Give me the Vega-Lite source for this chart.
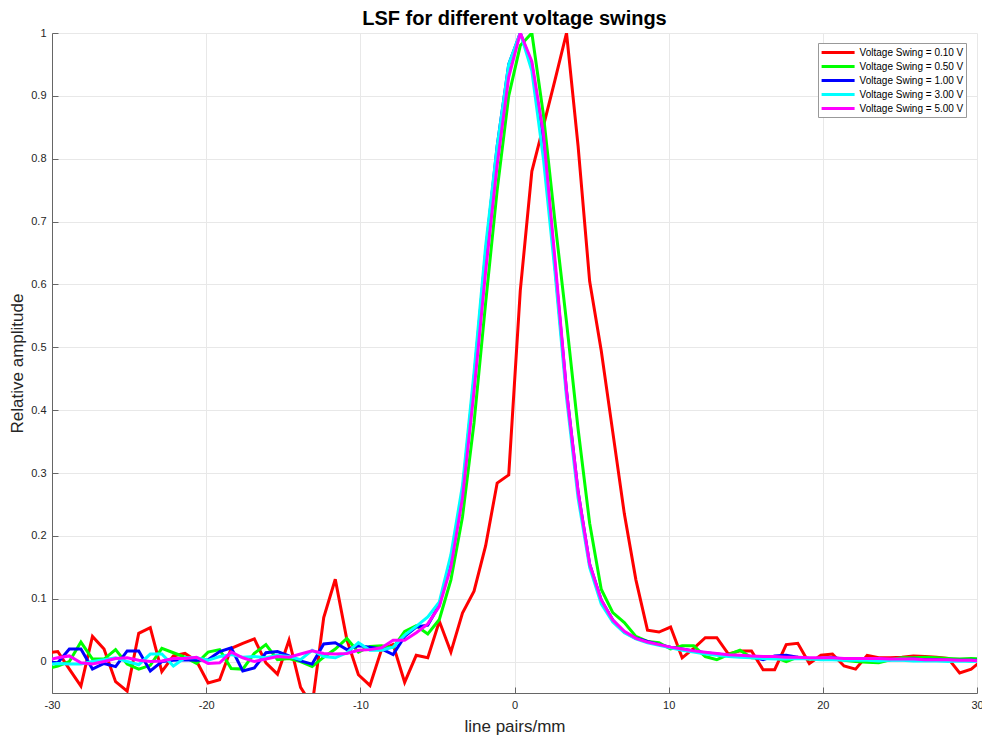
{
  "$schema": "https://vega.github.io/schema/vega-lite/v6.json",
  "autosize": "none",
  "width": 925,
  "height": 660,
  "padding": {"left": 52, "top": 33, "right": 5, "bottom": 47},
  "background": "white",
  "title": {"text": "LSF for different voltage swings", "fontSize": 20, "fontWeight": "bold", "font": "Liberation Sans", "color": "#000000", "anchor": "middle", "offset": -2},
  "config": {"view": {"stroke": null}, "font": "Liberation Sans"},
  "data": {"values": [
    {"v":0.1,"x":-30.375,"y":0.014},{"v":0.1,"x":-29.625,"y":0.016},{"v":0.1,"x":-28.875,"y":-0.012},{"v":0.1,"x":-28.125,"y":-0.039},{"v":0.1,"x":-27.375,"y":0.040},{"v":0.1,"x":-26.625,"y":0.020},{"v":0.1,"x":-25.875,"y":-0.032},{"v":0.1,"x":-25.125,"y":-0.047},{"v":0.1,"x":-24.375,"y":0.045},{"v":0.1,"x":-23.625,"y":0.054},
    {"v":0.1,"x":-22.875,"y":-0.016},{"v":0.1,"x":-22.125,"y":0.009},{"v":0.1,"x":-21.375,"y":0.013},{"v":0.1,"x":-20.625,"y":0.001},{"v":0.1,"x":-19.875,"y":-0.034},{"v":0.1,"x":-19.125,"y":-0.029},{"v":0.1,"x":-18.375,"y":0.021},{"v":0.1,"x":-17.625,"y":0.029},{"v":0.1,"x":-16.875,"y":0.036},{"v":0.1,"x":-16.125,"y":-0.002},
    {"v":0.1,"x":-15.375,"y":-0.020},{"v":0.1,"x":-14.625,"y":0.034},{"v":0.1,"x":-13.875,"y":-0.041},{"v":0.1,"x":-13.125,"y":-0.070},{"v":0.1,"x":-12.375,"y":0.070},{"v":0.1,"x":-11.625,"y":0.131},{"v":0.1,"x":-10.875,"y":0.035},{"v":0.1,"x":-10.125,"y":-0.021},{"v":0.1,"x":-9.375,"y":-0.038},{"v":0.1,"x":-8.625,"y":0.019},
    {"v":0.1,"x":-7.875,"y":0.027},{"v":0.1,"x":-7.125,"y":-0.033},{"v":0.1,"x":-6.375,"y":0.010},{"v":0.1,"x":-5.625,"y":0.006},{"v":0.1,"x":-4.875,"y":0.064},{"v":0.1,"x":-4.125,"y":0.015},{"v":0.1,"x":-3.375,"y":0.077},{"v":0.1,"x":-2.625,"y":0.112},{"v":0.1,"x":-1.875,"y":0.184},{"v":0.1,"x":-1.125,"y":0.284},
    {"v":0.1,"x":-0.375,"y":0.297},{"v":0.1,"x":0.375,"y":0.590},{"v":0.1,"x":1.125,"y":0.780},{"v":0.1,"x":1.875,"y":0.852},{"v":0.1,"x":2.625,"y":0.925},{"v":0.1,"x":3.375,"y":1.000},{"v":0.1,"x":4.125,"y":0.820},{"v":0.1,"x":4.875,"y":0.605},{"v":0.1,"x":5.625,"y":0.495},{"v":0.1,"x":6.375,"y":0.365},
    {"v":0.1,"x":7.125,"y":0.235},{"v":0.1,"x":7.875,"y":0.130},{"v":0.1,"x":8.625,"y":0.050},{"v":0.1,"x":9.375,"y":0.047},{"v":0.1,"x":10.125,"y":0.055},{"v":0.1,"x":10.875,"y":0.006},{"v":0.1,"x":11.625,"y":0.021},{"v":0.1,"x":12.375,"y":0.038},{"v":0.1,"x":13.125,"y":0.038},{"v":0.1,"x":13.875,"y":0.012},
    {"v":0.1,"x":14.625,"y":0.017},{"v":0.1,"x":15.375,"y":0.017},{"v":0.1,"x":16.125,"y":-0.013},{"v":0.1,"x":16.875,"y":-0.013},{"v":0.1,"x":17.625,"y":0.027},{"v":0.1,"x":18.375,"y":0.029},{"v":0.1,"x":19.125,"y":-0.003},{"v":0.1,"x":19.875,"y":0.010},{"v":0.1,"x":20.625,"y":0.012},{"v":0.1,"x":21.375,"y":-0.007},
    {"v":0.1,"x":22.125,"y":-0.012},{"v":0.1,"x":22.875,"y":0.010},{"v":0.1,"x":23.625,"y":0.006},{"v":0.1,"x":24.375,"y":0.006},{"v":0.1,"x":25.125,"y":0.007},{"v":0.1,"x":25.875,"y":0.009},{"v":0.1,"x":26.625,"y":0.008},{"v":0.1,"x":27.375,"y":0.007},{"v":0.1,"x":28.125,"y":0.005},{"v":0.1,"x":28.875,"y":-0.018},
    {"v":0.1,"x":29.625,"y":-0.012},{"v":0.1,"x":30.375,"y":0.003},

    {"v":0.5,"x":-30.375,"y":-0.012},{"v":0.5,"x":-29.625,"y":-0.007},{"v":0.5,"x":-28.875,"y":0.000},{"v":0.5,"x":-28.125,"y":0.031},{"v":0.5,"x":-27.375,"y":0.004},{"v":0.5,"x":-26.625,"y":0.004},{"v":0.5,"x":-25.875,"y":0.019},{"v":0.5,"x":-25.125,"y":-0.004},{"v":0.5,"x":-24.375,"y":-0.012},{"v":0.5,"x":-23.625,"y":-0.006},
    {"v":0.5,"x":-22.875,"y":0.021},{"v":0.5,"x":-22.125,"y":0.014},{"v":0.5,"x":-21.375,"y":0.007},{"v":0.5,"x":-20.625,"y":-0.003},{"v":0.5,"x":-19.875,"y":0.015},{"v":0.5,"x":-19.125,"y":0.019},{"v":0.5,"x":-18.375,"y":-0.011},{"v":0.5,"x":-17.625,"y":-0.012},{"v":0.5,"x":-16.875,"y":0.013},{"v":0.5,"x":-16.125,"y":0.027},
    {"v":0.5,"x":-15.375,"y":0.003},{"v":0.5,"x":-14.625,"y":0.005},{"v":0.5,"x":-13.875,"y":0.000},{"v":0.5,"x":-13.125,"y":-0.008},{"v":0.5,"x":-12.375,"y":0.007},{"v":0.5,"x":-11.625,"y":0.020},{"v":0.5,"x":-10.875,"y":0.037},{"v":0.5,"x":-10.125,"y":0.015},{"v":0.5,"x":-9.375,"y":0.024},{"v":0.5,"x":-8.625,"y":0.025},
    {"v":0.5,"x":-7.875,"y":0.022},{"v":0.5,"x":-7.125,"y":0.048},{"v":0.5,"x":-6.375,"y":0.057},{"v":0.5,"x":-5.625,"y":0.044},{"v":0.5,"x":-4.875,"y":0.067},{"v":0.5,"x":-4.125,"y":0.130},{"v":0.5,"x":-3.375,"y":0.230},{"v":0.5,"x":-2.625,"y":0.380},{"v":0.5,"x":-1.875,"y":0.570},{"v":0.5,"x":-1.125,"y":0.750},
    {"v":0.5,"x":-0.375,"y":0.900},{"v":0.5,"x":0.375,"y":0.980},{"v":0.5,"x":1.125,"y":1.000},{"v":0.5,"x":1.875,"y":0.870},{"v":0.5,"x":2.625,"y":0.700},{"v":0.5,"x":3.375,"y":0.540},{"v":0.5,"x":4.125,"y":0.370},{"v":0.5,"x":4.875,"y":0.220},{"v":0.5,"x":5.625,"y":0.115},{"v":0.5,"x":6.375,"y":0.078},
    {"v":0.5,"x":7.125,"y":0.062},{"v":0.5,"x":7.875,"y":0.040},{"v":0.5,"x":8.625,"y":0.032},{"v":0.5,"x":9.375,"y":0.030},{"v":0.5,"x":10.125,"y":0.020},{"v":0.5,"x":10.875,"y":0.025},{"v":0.5,"x":11.625,"y":0.025},{"v":0.5,"x":12.375,"y":0.008},{"v":0.5,"x":13.125,"y":0.003},{"v":0.5,"x":13.875,"y":0.011},
    {"v":0.5,"x":14.625,"y":0.018},{"v":0.5,"x":15.375,"y":0.006},{"v":0.5,"x":16.125,"y":0.005},{"v":0.5,"x":16.875,"y":0.007},{"v":0.5,"x":17.625,"y":0.000},{"v":0.5,"x":18.375,"y":0.007},{"v":0.5,"x":19.125,"y":0.004},{"v":0.5,"x":19.875,"y":0.005},{"v":0.5,"x":20.625,"y":0.006},{"v":0.5,"x":21.375,"y":0.002},
    {"v":0.5,"x":22.125,"y":0.000},{"v":0.5,"x":22.875,"y":-0.001},{"v":0.5,"x":23.625,"y":-0.002},{"v":0.5,"x":24.375,"y":0.003},{"v":0.5,"x":25.125,"y":0.006},{"v":0.5,"x":25.875,"y":0.006},{"v":0.5,"x":26.625,"y":0.007},{"v":0.5,"x":27.375,"y":0.006},{"v":0.5,"x":28.125,"y":0.005},{"v":0.5,"x":28.875,"y":0.004},
    {"v":0.5,"x":29.625,"y":0.005},{"v":0.5,"x":30.375,"y":0.004},

    {"v":1,"x":-30.375,"y":0.000},{"v":1,"x":-29.625,"y":-0.002},{"v":1,"x":-28.875,"y":0.020},{"v":1,"x":-28.125,"y":0.020},{"v":1,"x":-27.375,"y":-0.012},{"v":1,"x":-26.625,"y":-0.003},{"v":1,"x":-25.875,"y":-0.008},{"v":1,"x":-25.125,"y":0.017},{"v":1,"x":-24.375,"y":0.017},{"v":1,"x":-23.625,"y":-0.015},
    {"v":1,"x":-22.875,"y":0.000},{"v":1,"x":-22.125,"y":0.002},{"v":1,"x":-21.375,"y":0.003},{"v":1,"x":-20.625,"y":0.002},{"v":1,"x":-19.875,"y":0.003},{"v":1,"x":-19.125,"y":0.016},{"v":1,"x":-18.375,"y":0.022},{"v":1,"x":-17.625,"y":-0.015},{"v":1,"x":-16.875,"y":-0.010},{"v":1,"x":-16.125,"y":0.014},
    {"v":1,"x":-15.375,"y":0.016},{"v":1,"x":-14.625,"y":0.009},{"v":1,"x":-13.875,"y":0.001},{"v":1,"x":-13.125,"y":-0.004},{"v":1,"x":-12.375,"y":0.028},{"v":1,"x":-11.625,"y":0.030},{"v":1,"x":-10.875,"y":0.019},{"v":1,"x":-10.125,"y":0.025},{"v":1,"x":-9.375,"y":0.023},{"v":1,"x":-8.625,"y":0.020},
    {"v":1,"x":-7.875,"y":0.011},{"v":1,"x":-7.125,"y":0.040},{"v":1,"x":-6.375,"y":0.055},{"v":1,"x":-5.625,"y":0.058},{"v":1,"x":-4.875,"y":0.090},{"v":1,"x":-4.125,"y":0.160},{"v":1,"x":-3.375,"y":0.270},{"v":1,"x":-2.625,"y":0.450},{"v":1,"x":-1.875,"y":0.650},{"v":1,"x":-1.125,"y":0.820},
    {"v":1,"x":-0.375,"y":0.950},{"v":1,"x":0.375,"y":1.000},{"v":1,"x":1.125,"y":0.950},{"v":1,"x":1.875,"y":0.830},{"v":1,"x":2.625,"y":0.630},{"v":1,"x":3.375,"y":0.430},{"v":1,"x":4.125,"y":0.270},{"v":1,"x":4.875,"y":0.155},{"v":1,"x":5.625,"y":0.098},{"v":1,"x":6.375,"y":0.066},
    {"v":1,"x":7.125,"y":0.047},{"v":1,"x":7.875,"y":0.037},{"v":1,"x":8.625,"y":0.032},{"v":1,"x":9.375,"y":0.027},{"v":1,"x":10.125,"y":0.023},{"v":1,"x":10.875,"y":0.020},{"v":1,"x":11.625,"y":0.017},{"v":1,"x":12.375,"y":0.014},{"v":1,"x":13.125,"y":0.012},{"v":1,"x":13.875,"y":0.010},
    {"v":1,"x":14.625,"y":0.009},{"v":1,"x":15.375,"y":0.008},{"v":1,"x":16.125,"y":0.003},{"v":1,"x":16.875,"y":0.009},{"v":1,"x":17.625,"y":0.010},{"v":1,"x":18.375,"y":0.007},{"v":1,"x":19.125,"y":0.005},{"v":1,"x":19.875,"y":0.005},{"v":1,"x":20.625,"y":0.006},{"v":1,"x":21.375,"y":0.004},
    {"v":1,"x":22.125,"y":0.003},{"v":1,"x":22.875,"y":0.004},{"v":1,"x":23.625,"y":0.004},{"v":1,"x":24.375,"y":0.003},{"v":1,"x":25.125,"y":0.003},{"v":1,"x":25.875,"y":0.004},{"v":1,"x":26.625,"y":0.003},{"v":1,"x":27.375,"y":0.003},{"v":1,"x":28.125,"y":0.002},{"v":1,"x":28.875,"y":0.002},
    {"v":1,"x":29.625,"y":0.002},{"v":1,"x":30.375,"y":0.002},

    {"v":3,"x":-30.375,"y":-0.005},{"v":3,"x":-29.625,"y":-0.003},{"v":3,"x":-28.875,"y":-0.004},{"v":3,"x":-28.125,"y":-0.004},{"v":3,"x":-27.375,"y":0.000},{"v":3,"x":-26.625,"y":0.003},{"v":3,"x":-25.875,"y":0.006},{"v":3,"x":-25.125,"y":0.000},{"v":3,"x":-24.375,"y":-0.005},{"v":3,"x":-23.625,"y":0.012},
    {"v":3,"x":-22.875,"y":0.012},{"v":3,"x":-22.125,"y":-0.007},{"v":3,"x":-21.375,"y":0.006},{"v":3,"x":-20.625,"y":0.006},{"v":3,"x":-19.875,"y":0.002},{"v":3,"x":-19.125,"y":0.008},{"v":3,"x":-18.375,"y":0.011},{"v":3,"x":-17.625,"y":0.007},{"v":3,"x":-16.875,"y":0.008},{"v":3,"x":-16.125,"y":0.006},
    {"v":3,"x":-15.375,"y":0.010},{"v":3,"x":-14.625,"y":0.008},{"v":3,"x":-13.875,"y":0.003},{"v":3,"x":-13.125,"y":0.018},{"v":3,"x":-12.375,"y":0.008},{"v":3,"x":-11.625,"y":0.006},{"v":3,"x":-10.875,"y":0.014},{"v":3,"x":-10.125,"y":0.030},{"v":3,"x":-9.375,"y":0.018},{"v":3,"x":-8.625,"y":0.018},
    {"v":3,"x":-7.875,"y":0.023},{"v":3,"x":-7.125,"y":0.042},{"v":3,"x":-6.375,"y":0.056},{"v":3,"x":-5.625,"y":0.071},{"v":3,"x":-4.875,"y":0.095},{"v":3,"x":-4.125,"y":0.170},{"v":3,"x":-3.375,"y":0.280},{"v":3,"x":-2.625,"y":0.460},{"v":3,"x":-1.875,"y":0.660},{"v":3,"x":-1.125,"y":0.820},
    {"v":3,"x":-0.375,"y":0.950},{"v":3,"x":0.375,"y":1.000},{"v":3,"x":1.125,"y":0.940},{"v":3,"x":1.875,"y":0.800},{"v":3,"x":2.625,"y":0.620},{"v":3,"x":3.375,"y":0.420},{"v":3,"x":4.125,"y":0.260},{"v":3,"x":4.875,"y":0.150},{"v":3,"x":5.625,"y":0.092},{"v":3,"x":6.375,"y":0.063},
    {"v":3,"x":7.125,"y":0.046},{"v":3,"x":7.875,"y":0.036},{"v":3,"x":8.625,"y":0.030},{"v":3,"x":9.375,"y":0.026},{"v":3,"x":10.125,"y":0.022},{"v":3,"x":10.875,"y":0.018},{"v":3,"x":11.625,"y":0.015},{"v":3,"x":12.375,"y":0.012},{"v":3,"x":13.125,"y":0.010},{"v":3,"x":13.875,"y":0.008},
    {"v":3,"x":14.625,"y":0.007},{"v":3,"x":15.375,"y":0.006},{"v":3,"x":16.125,"y":0.005},{"v":3,"x":16.875,"y":0.004},{"v":3,"x":17.625,"y":0.004},{"v":3,"x":18.375,"y":0.005},{"v":3,"x":19.125,"y":0.004},{"v":3,"x":19.875,"y":0.003},{"v":3,"x":20.625,"y":0.003},{"v":3,"x":21.375,"y":0.002},
    {"v":3,"x":22.125,"y":0.002},{"v":3,"x":22.875,"y":0.002},{"v":3,"x":23.625,"y":0.001},{"v":3,"x":24.375,"y":0.002},{"v":3,"x":25.125,"y":0.002},{"v":3,"x":25.875,"y":0.001},{"v":3,"x":26.625,"y":0.001},{"v":3,"x":27.375,"y":0.001},{"v":3,"x":28.125,"y":0.000},{"v":3,"x":28.875,"y":0.001},
    {"v":3,"x":29.625,"y":0.000},{"v":3,"x":30.375,"y":0.001},

    {"v":5,"x":-30.375,"y":0.002},{"v":5,"x":-29.625,"y":0.006},{"v":5,"x":-28.875,"y":0.009},{"v":5,"x":-28.125,"y":-0.002},{"v":5,"x":-27.375,"y":-0.004},{"v":5,"x":-26.625,"y":0.000},{"v":5,"x":-25.875,"y":0.005},{"v":5,"x":-25.125,"y":0.006},{"v":5,"x":-24.375,"y":0.002},{"v":5,"x":-23.625,"y":0.000},
    {"v":5,"x":-22.875,"y":0.001},{"v":5,"x":-22.125,"y":0.005},{"v":5,"x":-21.375,"y":0.005},{"v":5,"x":-20.625,"y":0.007},{"v":5,"x":-19.875,"y":-0.003},{"v":5,"x":-19.125,"y":-0.002},{"v":5,"x":-18.375,"y":0.015},{"v":5,"x":-17.625,"y":0.006},{"v":5,"x":-16.875,"y":0.000},{"v":5,"x":-16.125,"y":0.004},
    {"v":5,"x":-15.375,"y":0.008},{"v":5,"x":-14.625,"y":0.007},{"v":5,"x":-13.875,"y":0.012},{"v":5,"x":-13.125,"y":0.017},{"v":5,"x":-12.375,"y":0.013},{"v":5,"x":-11.625,"y":0.012},{"v":5,"x":-10.875,"y":0.013},{"v":5,"x":-10.125,"y":0.018},{"v":5,"x":-9.375,"y":0.019},{"v":5,"x":-8.625,"y":0.022},
    {"v":5,"x":-7.875,"y":0.034},{"v":5,"x":-7.125,"y":0.034},{"v":5,"x":-6.375,"y":0.046},{"v":5,"x":-5.625,"y":0.060},{"v":5,"x":-4.875,"y":0.088},{"v":5,"x":-4.125,"y":0.150},{"v":5,"x":-3.375,"y":0.260},{"v":5,"x":-2.625,"y":0.430},{"v":5,"x":-1.875,"y":0.620},{"v":5,"x":-1.125,"y":0.790},
    {"v":5,"x":-0.375,"y":0.930},{"v":5,"x":0.375,"y":1.000},{"v":5,"x":1.125,"y":0.955},{"v":5,"x":1.875,"y":0.840},{"v":5,"x":2.625,"y":0.640},{"v":5,"x":3.375,"y":0.430},{"v":5,"x":4.125,"y":0.270},{"v":5,"x":4.875,"y":0.155},{"v":5,"x":5.625,"y":0.098},{"v":5,"x":6.375,"y":0.066},
    {"v":5,"x":7.125,"y":0.048},{"v":5,"x":7.875,"y":0.037},{"v":5,"x":8.625,"y":0.031},{"v":5,"x":9.375,"y":0.027},{"v":5,"x":10.125,"y":0.023},{"v":5,"x":10.875,"y":0.020},{"v":5,"x":11.625,"y":0.017},{"v":5,"x":12.375,"y":0.015},{"v":5,"x":13.125,"y":0.013},{"v":5,"x":13.875,"y":0.011},
    {"v":5,"x":14.625,"y":0.010},{"v":5,"x":15.375,"y":0.009},{"v":5,"x":16.125,"y":0.008},{"v":5,"x":16.875,"y":0.008},{"v":5,"x":17.625,"y":0.007},{"v":5,"x":18.375,"y":0.007},{"v":5,"x":19.125,"y":0.006},{"v":5,"x":19.875,"y":0.006},{"v":5,"x":20.625,"y":0.006},{"v":5,"x":21.375,"y":0.005},
    {"v":5,"x":22.125,"y":0.005},{"v":5,"x":22.875,"y":0.005},{"v":5,"x":23.625,"y":0.005},{"v":5,"x":24.375,"y":0.004},{"v":5,"x":25.125,"y":0.004},{"v":5,"x":25.875,"y":0.004},{"v":5,"x":26.625,"y":0.003},{"v":5,"x":27.375,"y":0.003},{"v":5,"x":28.125,"y":0.003},{"v":5,"x":28.875,"y":0.002},
    {"v":5,"x":29.625,"y":0.002},{"v":5,"x":30.375,"y":0.001}
  ]},
  "mark": {"type": "line", "strokeWidth": 3, "clip": true},
  "encoding": {
    "x": {
      "field": "x", "type": "quantitative",
      "scale": {"domain": [-30, 30], "nice": false, "zero": false},
      "axis": {
        "values": [-30, -20, -10, 0, 10, 20, 30],
        "labelExpr": "'' + datum.value",
        "title": "line pairs/mm", "titleFontSize": 17, "titleFontWeight": "normal", "titleColor": "#262626", "titlePadding": 8,
        "labelFontSize": 11, "labelColor": "#262626", "labelPadding": 12, "labelFlush": false,
        "domainColor": "#666666", "tickColor": "#666666", "tickSize": -6,
        "gridColor": "#e8e8e8"
      }
    },
    "y": {
      "field": "y", "type": "quantitative",
      "scale": {"domain": [-0.05, 1], "nice": false, "zero": false},
      "axis": {
        "values": [0, 0.1, 0.2, 0.3, 0.4, 0.5, 0.6, 0.7, 0.8, 0.9, 1],
        "labelExpr": "'' + datum.value",
        "title": "Relative amplitude", "titleFontSize": 17, "titleFontWeight": "normal", "titleColor": "#262626", "titlePadding": 4,
        "labelFontSize": 11, "labelColor": "#262626", "labelPadding": 12,
        "domainColor": "#666666", "tickColor": "#666666", "tickSize": -6,
        "gridColor": "#e8e8e8"
      }
    },
    "color": {
      "field": "v", "type": "nominal",
      "scale": {"domain": [0.1, 0.5, 1, 3, 5], "range": ["#ff0000", "#00ff00", "#0000ff", "#00ffff", "#ff00ff"]},
      "legend": {
        "orient": "none", "legendX": 766, "legendY": 10,
        "title": null, "fillColor": "white", "strokeColor": "#999999", "padding": 2,
        "symbolType": "M-2.75,0H2.75", "symbolSize": 144, "symbolStrokeWidth": 3, "symbolOffset": 10.6,
        "labelOffset": 14, "labelFontSize": 10, "labelColor": "#000000", "rowPadding": 0,
        "labelExpr": "'Voltage Swing = ' + format(datum.value, '.2f') + ' V'"
      }
    }
  }
}
